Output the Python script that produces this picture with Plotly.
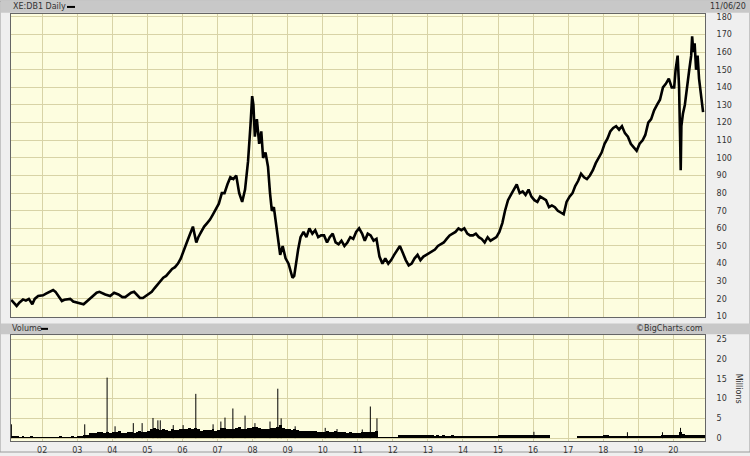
import plotly.graph_objects as go

# ---------------- data ----------------
price_dates = [
    "2001-02-12","2001-03-10","2001-04-10","2001-05-10","2001-06-15","2001-07-15","2001-08-15","2001-09-20","2001-10-15","2001-11-20",
    "2002-01-10","2002-02-10","2002-03-25","2002-04-25","2002-05-20","2002-06-15","2002-07-25","2002-08-20","2002-09-20","2002-10-20","2002-11-20","2002-12-28",
    "2003-01-25","2003-03-08","2003-04-10","2003-05-10","2003-06-10","2003-07-22","2003-08-20","2003-09-20","2003-10-20","2003-12-10",
    "2004-01-20","2004-03-05","2004-04-15","2004-05-15","2004-06-15","2004-07-15","2004-08-15","2004-09-15","2004-10-15","2004-11-15","2004-12-15",
    "2005-01-15","2005-02-15","2005-03-15","2005-04-15","2005-05-15","2005-06-15","2005-07-15","2005-08-15","2005-09-15","2005-10-15","2005-11-15","2005-12-15",
    "2006-01-15","2006-02-15","2006-03-15","2006-04-20","2006-05-25","2006-06-15","2006-07-15","2006-08-15","2006-09-15","2006-10-15","2006-11-15","2006-12-15",
    "2007-01-15","2007-02-15","2007-03-15","2007-04-15","2007-05-15","2007-06-15","2007-07-15","2007-08-15","2007-09-15","2007-10-15","2007-11-15","2007-12-10","2007-12-28",
    "2008-01-10","2008-01-25","2008-02-15","2008-03-10","2008-04-01","2008-04-20","2008-05-15","2008-06-10","2008-07-01","2008-07-20","2008-08-10","2008-09-01","2008-09-20","2008-10-15","2008-11-10","2008-12-10",
    "2009-01-10","2009-02-01","2009-02-20","2009-03-10","2009-04-01","2009-04-20","2009-05-15","2009-06-15","2009-07-15","2009-08-15","2009-09-15","2009-10-15","2009-11-15","2009-12-15",
    "2010-01-15","2010-02-15","2010-03-15","2010-04-15","2010-05-15","2010-06-15","2010-07-15","2010-08-15","2010-09-15","2010-10-15","2010-11-15","2010-12-15",
    "2011-01-15","2011-02-15","2011-03-15","2011-04-15","2011-05-15","2011-06-15","2011-07-15","2011-08-15","2011-09-15","2011-10-15","2011-11-15","2011-12-15",
    "2012-01-15","2012-02-15","2012-03-15","2012-04-15","2012-05-15","2012-06-15","2012-07-15","2012-08-15","2012-09-15","2012-10-15","2012-11-15","2012-12-15",
    "2013-01-15","2013-02-15","2013-03-15","2013-04-15","2013-05-15","2013-06-15","2013-07-15","2013-08-15","2013-09-15","2013-10-15","2013-11-15","2013-12-15",
    "2014-01-15","2014-02-15","2014-03-15","2014-04-15","2014-05-15","2014-06-15","2014-07-15","2014-08-15","2014-09-15","2014-10-15","2014-11-15","2014-12-15",
    "2015-01-15","2015-02-15","2015-03-15","2015-04-15","2015-05-15","2015-06-15","2015-07-15","2015-08-15","2015-09-15","2015-10-15","2015-11-15","2015-12-15",
    "2016-01-15","2016-02-15","2016-03-15","2016-04-15","2016-05-15","2016-06-15","2016-07-15","2016-08-15","2016-09-15","2016-10-15","2016-11-15","2016-12-15",
    "2017-01-15","2017-02-15","2017-03-15","2017-04-15","2017-05-15","2017-06-15","2017-07-15","2017-08-15","2017-09-15","2017-10-15","2017-11-15","2017-12-15",
    "2018-01-15","2018-02-15","2018-03-15","2018-04-15","2018-05-15","2018-06-15","2018-07-15","2018-08-15","2018-09-15","2018-10-15","2018-11-15","2018-12-15",
    "2019-01-15","2019-02-15","2019-03-15","2019-04-15","2019-05-15","2019-06-15","2019-07-15","2019-08-15","2019-09-15","2019-10-15","2019-11-15","2019-12-15",
    "2020-01-10","2020-01-25","2020-02-15","2020-03-01","2020-03-12","2020-03-18","2020-03-25","2020-04-10","2020-04-30","2020-05-20","2020-06-15","2020-07-05","2020-07-15","2020-07-28","2020-08-10","2020-08-25","2020-09-10","2020-09-25","2020-10-10","2020-10-25","2020-11-06",
]
price_close = [
    19.5,18,16,18,19.7,19,20,17,20,21.6,
    22,23,24.4,25,24,22,18.8,19.5,19.7,20,18.5,17.9,
    17.5,16.9,18.5,20,21.5,23.5,24,23,22.5,21.6,
    23.5,22.5,21,21,22.5,23.5,24,22.5,20.5,20.5,21.5,
    22.5,24,26,28,30,32,33,35,37,38,40,43,
    47,52,56,61,52,55,58,61,63,65,68,71,
    74,80,80,85,89,88,90,80,75,82,98,118,135,
    130,112,122,108,115,100,103,95,80,70,72,62,55,45,50,43,
    40,36,32,33,42,48,55,58,55,60,57,59,55,56,
    56,52,55,57,52,51,53,50,52,55,54,58,
    60,57,53,57,56,53,54,44,40,43,40,42,
    45,48,50,46,42,39,40,43,45,42,44,45,
    46,47,48,50,51,52,54,56,57,58,60,59,
    60,57,56,56,57,55,54,52,55,53,54,55,
    58,63,70,76,79,82,85,80,81,79,82,78,
    76,75,78,77,76,72,73,72,70,69,68,75,
    78,80,84,87,91,89,88,90,93,97,100,103,
    108,111,115,117,118,116,118,114,112,108,106,104,
    108,110,113,120,122,127,130,133,140,142,145,140,
    140,150,158,140,110,93,118,125,130,140,150,158,169,160,165,150,158,145,138,130,126,
]

vol_months = [
    "2001-02","2001-03","2001-04","2001-05","2001-06","2001-07","2001-08","2001-09","2001-10","2001-11","2001-12",
] + [f"{y}-{m:02d}" for y in range(2002, 2020) for m in range(1, 13)] + [f"2020-{m:02d}" for m in range(1, 12)]
vol_base = [
    0.6,0.5,0.5,0.4,0.5,0.4,0.4,0.5,0.4,0.4,0.4,
    0.4,0.4,0.3,0.4,0.4,0.4,0.5,0.4,0.4,0.4,0.5,0.4,
    0.5,0.6,0.8,0.9,1.2,1.4,1.3,1.5,1.6,1.4,1.5,1.4,
    1.5,1.6,1.8,1.4,1.3,1.5,1.6,1.4,1.5,1.7,1.6,1.5,
    1.7,2.2,2.6,2.3,2.1,2.4,2.0,1.9,2.2,2.0,2.1,2.3,
    2.4,2.2,2.5,2.3,2.6,2.2,1.9,2.0,2.1,2.0,2.2,1.9,
    2.1,2.5,2.6,2.3,2.4,2.2,2.5,2.8,2.4,2.3,2.6,2.5,
    2.9,2.7,2.6,2.4,2.3,2.2,2.5,2.6,2.9,3.2,2.6,2.2,
    2.3,2.1,2.2,2.0,1.9,1.8,1.7,1.9,1.8,1.7,1.6,1.5,
    1.6,1.7,1.5,1.6,1.9,1.6,1.5,1.5,1.4,1.5,1.4,1.3,
    1.4,1.5,1.6,1.5,1.6,1.5,1.7,0.3,0.2,0.2,0.2,0.2,
    0.2,0.4,0.9,0.8,0.8,0.9,0.8,0.7,0.8,0.7,0.7,0.7,
    0.7,0.7,0.6,0.7,0.6,0.7,0.6,0.6,0.7,0.6,0.6,0.6,
    0.6,0.6,0.6,0.5,0.6,0.5,0.5,0.6,0.5,0.6,0.6,0.6,
    0.7,0.8,0.9,0.8,0.7,0.8,0.7,0.8,0.7,0.7,0.8,0.7,
    0.9,0.8,0.8,0.7,0.7,0.7,0.15,0.1,0.1,0.1,0.1,0.1,
    0.1,0.1,0.1,0.6,0.6,0.6,0.6,0.6,0.6,0.6,0.6,0.6,
    0.7,0.7,0.6,0.6,0.6,0.6,0.6,0.5,0.6,0.6,0.6,0.6,
    0.6,0.6,0.6,0.6,0.6,0.6,0.6,0.6,0.7,0.7,0.8,0.7,
    0.8,0.9,1.6,1.0,0.9,0.9,0.8,0.8,0.8,0.8,0.8,
]
spike_dates = ["2001-02-14","2003-03-20","2003-11-08","2004-01-30","2004-08-07","2004-11-07",
               "2005-02-28","2005-04-20","2005-05-15","2005-09-27","2006-01-08","2006-05-20",
               "2006-11-16","2007-02-05","2007-03-20","2007-06-10","2007-10-15","2008-01-26",
               "2008-07-01","2008-09-20","2008-10-25","2009-03-20","2010-01-27","2010-05-30",
               "2011-02-17","2011-05-12","2011-07-20","2016-01-10","2018-09-10","2019-09-10","2020-03-16"]
spike_vals = [3.5,3.5,15.3,3.0,3.8,3.8,
              5.1,4.5,4.5,3.3,3.3,11.2,
              3.5,4.2,5.2,7.5,5.7,3.8,
              4.2,12.5,5.0,3.0,2.6,2.3,
              2.2,8.0,5.0,1.6,1.5,1.5,2.6]

year_ticks = [f"{y}-01-01" for y in range(2002, 2021)]
price_ticks = list(range(10, 190, 10))
vol_ticks = [0, 5, 10, 15, 20, 25]

# ---------------- figure ----------------
W, H = 750, 456
def py(p):  # pixel y -> paper
    return 1 - p / H
def px(p):
    return p / W

FONT = "DejaVu Sans"
TXT = "#333333"
PANEL = "#fdfddf"
GRID = "#d8d3a6"
BAR = "#c8c8c8"

fig = go.Figure()
fig.add_trace(go.Scatter(x=price_dates, y=price_close, mode="lines",
                         line=dict(color="black", width=2.6), xaxis="x", yaxis="y",
                         showlegend=False, hoverinfo="skip"))
fig.add_trace(go.Bar(x=[m + "-15" for m in vol_months], y=vol_base, width=31 * 86400000,
                     marker=dict(color="black", line=dict(width=0)), xaxis="x2", yaxis="y2",
                     showlegend=False, hoverinfo="skip"))
sx, sy = [], []
for d, v in zip(spike_dates, spike_vals):
    sx += [d, d, None]
    sy += [0, v, None]
fig.add_trace(go.Scatter(x=sx, y=sy, mode="lines", line=dict(color="black", width=1),
                         xaxis="x2", yaxis="y2", showlegend=False, hoverinfo="skip"))

xr = ["2001-02-10", "2020-11-26"]
xdom = [px(11), px(705)]
common_x = dict(type="date", range=xr, domain=xdom, tickvals=year_ticks, showgrid=True,
                gridcolor=GRID, gridwidth=1, showline=True, mirror=True, linecolor="#666666",
                linewidth=1, zeroline=False, fixedrange=True)
fig.update_layout(
    width=W, height=H, margin=dict(l=0, r=0, t=0, b=0),
    paper_bgcolor="#efefef", plot_bgcolor=PANEL,
    font=dict(family=FONT, size=8, color=TXT),
    bargap=0,
    xaxis=dict(**common_x, anchor="y", showticklabels=False),
    yaxis=dict(domain=[py(319.5), py(13)], range=[9.72, 181.7], side="right",
               tickvals=price_ticks, showgrid=True, gridcolor=GRID, gridwidth=1,
               showline=True, mirror=True, linecolor="#666666", linewidth=1,
               zeroline=False, ticks="outside", ticklen=9, tickcolor="rgba(0,0,0,0)",
               tickfont=dict(size=8, color=TXT), anchor="x", fixedrange=True),
    xaxis2=dict(**common_x, anchor="y2", tickformat="%y", ticks="outside", ticklen=1,
                tickcolor="rgba(0,0,0,0)", tickfont=dict(size=8, color=TXT)),
    yaxis2=dict(domain=[py(445), py(338)], range=[-0.75, 26], side="right",
                tickvals=vol_ticks, showgrid=True, gridcolor=GRID, gridwidth=1,
                showline=True, mirror=True, linecolor="#666666", linewidth=1,
                zeroline=False, ticks="outside", ticklen=9, tickcolor="rgba(0,0,0,0)",
                tickfont=dict(size=8, color=TXT), anchor="x2", fixedrange=True),
)

shapes = [
    # outer frame
    dict(type="rect", xref="paper", yref="paper", x0=0, x1=1, y0=0, y1=1,
         line=dict(color="#9a9a9a", width=1), fillcolor="rgba(0,0,0,0)", layer="below"),
    # header bars
    dict(type="rect", xref="paper", yref="paper", x0=px(1), x1=1, y0=py(12), y1=py(0),
         line=dict(width=0), fillcolor=BAR, layer="below"),
    dict(type="rect", xref="paper", yref="paper", x0=px(1), x1=1, y0=py(337), y1=py(326),
         line=dict(width=0), fillcolor=BAR, layer="below"),
    # legend dashes
    dict(type="line", xref="paper", yref="paper", x0=px(67), x1=px(75), y0=py(6), y1=py(6),
         line=dict(color="black", width=2)),
    dict(type="line", xref="paper", yref="paper", x0=px(41), x1=px(48), y0=py(331.5), y1=py(331.5),
         line=dict(color="black", width=2)),
]
fig.update_layout(shapes=shapes)

ann = [
    dict(text="XE:DB1 Daily", x=px(11), y=py(6), xanchor="left", yanchor="middle"),
    dict(text="11/06/20", x=px(748), y=py(6), xanchor="right", yanchor="middle"),
    dict(text="Volume", x=px(10), y=py(331.5), xanchor="left", yanchor="middle"),
    dict(text="©BigCharts.com", x=px(705), y=py(331.5), xanchor="right", yanchor="middle"),
    dict(text="Millions", x=px(738), y=py(392), xanchor="center", yanchor="middle", textangle=90),
]
for a in ann:
    fig.add_annotation(xref="paper", yref="paper", showarrow=False,
                       font=dict(family=FONT, size=8, color=TXT), **a)

fig.write_html("out.html", config={"displayModeBar": False, "staticPlot": True},
               post_script="document.body.style.margin='0';document.body.style.overflow='hidden';")
